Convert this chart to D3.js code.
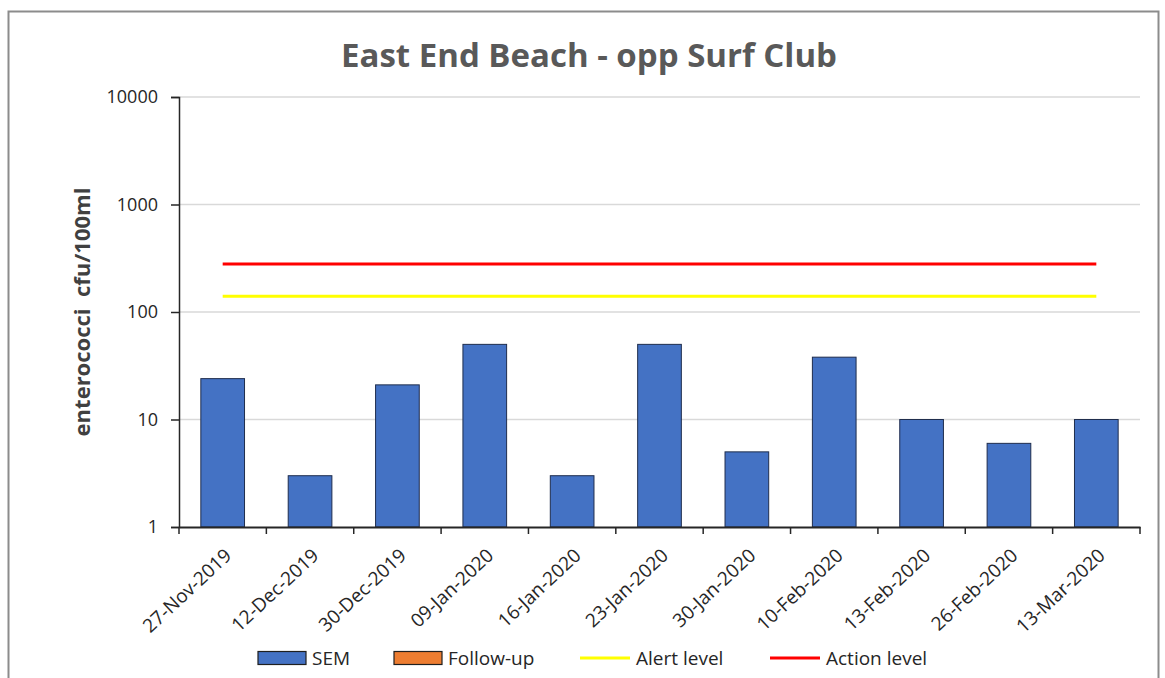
<!DOCTYPE html>
<html>
<head>
<meta charset="utf-8">
<script src="https://cdn.jsdelivr.net/npm/d3@7"></script>
<style>
  body { margin: 0; background: #fff; }
  svg { font-family: "Open Sans", Lato, sans-serif; }
</style>
</head>
<body>
<div class="chart"></div>
<script>
const dates = ['27-Nov-2019', '12-Dec-2019', '30-Dec-2019', '09-Jan-2020', '16-Jan-2020',
    '23-Jan-2020', '30-Jan-2020', '10-Feb-2020', '13-Feb-2020', '26-Feb-2020', '13-Mar-2020'];
const sem = [24, 3, 21, 50, 3, 50, 5, 38, 10, 6, 10];
const alertLevel = 140;
const actionLevel = 280;
const yTicks = [1, 10, 100, 1000, 10000];

const width = 1165, height = 678;
const plot = { left: 179, right: 1140, top: 97, bottom: 527 };

const svg = d3.select('.chart')
    .append('svg')
        .attr('width', width)
        .attr('height', height);

// outer frame
svg.append('rect')
    .attr('x', 8.5).attr('y', 11.5)
    .attr('width', 1150).attr('height', 670)
    .attr('fill', 'none')
    .attr('stroke', '#8c8c8c')
    .attr('stroke-width', 2);

const x = d3.scaleBand()
    .domain(dates)
    .range([plot.left, plot.right])
    .paddingInner(0.5)
    .paddingOuter(0.25);

const y = d3.scaleLog()
    .domain([1, 10000])
    .range([plot.bottom, plot.top]);

// gridlines
svg.append('g')
    .selectAll('line')
    .data(yTicks.slice(1))
    .enter()
        .append('line')
        .attr('x1', plot.left).attr('x2', plot.right)
        .attr('y1', d => y(d)).attr('y2', d => y(d))
        .attr('stroke', '#d9d9d9')
        .attr('stroke-width', 1.5);

// bars
svg.append('g')
    .selectAll('rect')
    .data(sem)
    .enter()
        .append('rect')
        .attr('x', (d, i) => x(dates[i]))
        .attr('y', d => y(d))
        .attr('width', x.bandwidth())
        .attr('height', d => y(1) - y(d))
        .attr('fill', '#4472c4')
        .attr('stroke', '#1f2d4d')
        .attr('stroke-width', 1);

// level lines
const first = x(dates[0]) + x.bandwidth() / 2;
const last = x(dates[dates.length - 1]) + x.bandwidth() / 2;
[[alertLevel, '#ffff00'], [actionLevel, '#ff0000']].forEach(([v, c]) => {
    svg.append('line')
        .attr('x1', first).attr('x2', last)
        .attr('y1', y(v)).attr('y2', y(v))
        .attr('stroke', c)
        .attr('stroke-width', 3);
});

// y axis
const yAxis = svg.append('g')
    .attr('transform', `translate(${plot.left},0)`)
    .call(d3.axisLeft(y).tickValues(yTicks).tickFormat(d3.format('d')).tickSizeOuter(0).tickSize(8).tickPadding(13));
yAxis.select('.domain').attr('stroke', '#262626').attr('stroke-width', 1.5);
yAxis.selectAll('.tick line').attr('stroke', '#262626').attr('stroke-width', 1.5);
yAxis.selectAll('text')
    .attr('font-size', 18)
    .attr('font-family', '"Open Sans", sans-serif')
    .attr('fill', '#262626');

// x axis
const xAxis = svg.append('g')
    .attr('transform', `translate(0,${plot.bottom})`)
    .call(d3.axisBottom(x).tickSize(0).tickPadding(0));
xAxis.select('.domain').attr('stroke', '#262626').attr('stroke-width', 2);
xAxis.selectAll('.tick text')
    .attr('font-size', 19)
    .attr('font-family', '"Open Sans", sans-serif')
    .attr('fill', '#262626')
    .attr('text-anchor', 'end')
    .attr('transform', 'translate(10,30) rotate(-43)')
    .attr('dy', 0)
    .attr('y', 0);

// category boundary ticks
const bounds = d3.range(dates.length + 1).map(i => plot.left + i * x.step());
svg.append('g')
    .selectAll('line')
    .data(bounds)
    .enter()
        .append('line')
        .attr('x1', d => d).attr('x2', d => d)
        .attr('y1', plot.bottom).attr('y2', plot.bottom + 7)
        .attr('stroke', '#262626')
        .attr('stroke-width', 1.5);

// title
svg.append('text')
    .attr('x', 589).attr('y', 67)
    .attr('text-anchor', 'middle')
    .attr('font-size', 33)
    .attr('font-weight', 'bold')
    .attr('fill', '#595959')
    .text('East End Beach - opp Surf Club');

// y label
svg.append('text')
    .attr('transform', 'translate(90,312) rotate(-90)')
    .attr('text-anchor', 'middle')
    .attr('font-size', 22)
    .attr('font-weight', 'bold')
    .attr('fill', '#404040')
    .attr('xml:space', 'preserve')
    .text('enterococci  cfu/100ml');

// legend
const legendY = 658;
const legend = [
    { name: 'SEM', kind: 'box', color: '#4472c4', x: 258 },
    { name: 'Follow-up', kind: 'box', color: '#ed7d31', x: 394 },
    { name: 'Alert level', kind: 'line', color: '#ffff00', x: 580 },
    { name: 'Action level', kind: 'line', color: '#ff0000', x: 770 }
];
const item = svg.append('g')
    .selectAll('g')
    .data(legend)
    .enter()
        .append('g')
        .attr('transform', d => `translate(${d.x},${legendY})`);
item.filter(d => d.kind === 'box')
    .append('rect')
    .attr('x', 0).attr('y', -6.5)
    .attr('width', 48).attr('height', 13)
    .attr('fill', d => d.color)
    .attr('stroke', '#1f1f1f')
    .attr('stroke-width', 1.2);
item.filter(d => d.kind === 'line')
    .append('line')
    .attr('x1', 0).attr('x2', 50)
    .attr('y1', 0).attr('y2', 0)
    .attr('stroke', d => d.color)
    .attr('stroke-width', 3);
item.append('text')
    .attr('x', d => d.kind === 'box' ? 54 : 56)
    .attr('y', 0)
    .attr('dy', '0.35em')
    .attr('font-size', 19)
    .attr('fill', '#262626')
    .text(d => d.name);
</script>
</body>
</html>
